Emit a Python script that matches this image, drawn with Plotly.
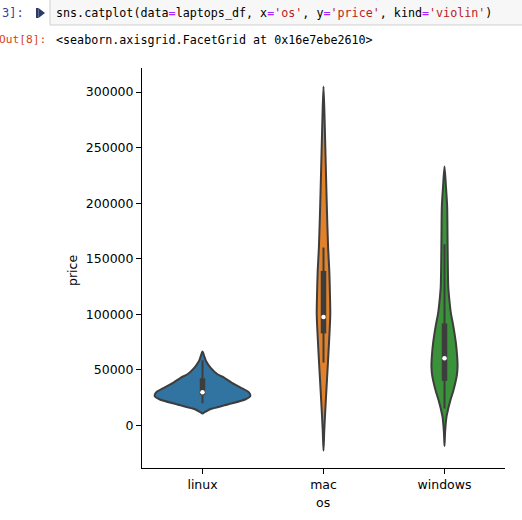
import plotly.graph_objects as go

# ---------------- data ----------------
categories = ["linux", "mac", "windows"]
y_ticks = [0, 50000, 100000, 150000, 200000, 250000, 300000]

# violin outlines: price levels and half-widths (in category units)
linux_price = [10500, 12000, 14400, 18900, 23400, 26400, 29400, 33900, 38400,
               42900, 45900, 51900, 57800, 62000, 66300]
linux_halfwidth = [0.0, 0.021, 0.062, 0.215, 0.356, 0.396, 0.385, 0.315, 0.240,
                   0.178, 0.124, 0.066, 0.029, 0.015, 0.0]

mac_price = [-23000, -4000, 26000, 57000, 86000, 100000, 115000, 139000, 160000,
             199000, 220000, 250000, 280000, 305000]
mac_halfwidth = [0.0, 0.0066, 0.021, 0.037, 0.051, 0.056, 0.054, 0.048, 0.038,
                 0.027, 0.022, 0.015, 0.008, 0.0]

windows_price = [-18600, -6000, 8000, 15000, 23000, 30000, 39000, 45000, 53000,
                 63000, 75000, 91000, 100000, 113000, 125000, 149000, 170000,
                 197000, 215000, 233000]
windows_halfwidth = [0.0, 0.005, 0.017, 0.031, 0.050, 0.070, 0.091, 0.102, 0.108,
                     0.104, 0.093, 0.070, 0.054, 0.040, 0.031, 0.027, 0.025,
                     0.022, 0.012, 0.0]

# inner box statistics
q1 = [27200, 82700, 40000]
median = [29700, 97500, 60300]
q3 = [42300, 139000, 91700]
whisker_low = [19800, 56400, 15000]
whisker_high = [58400, 160000, 163000]

fill_colors = ["#3274a1", "#e1812c", "#3a923a"]
outline = "#3d3d3d"

# ---------------- layout helpers ----------------
W, H = 522, 520
L, R, T, B = 142, 505, 68, 468


def px(x):
    return (x - L) / (R - L)


def py(y):
    return (B - y) / (B - T)


profiles = [(linux_price, linux_halfwidth), (mac_price, mac_halfwidth),
            (windows_price, windows_halfwidth)]

fig = go.Figure()
for i, cat in enumerate(categories):
    prices, hw = profiles[i]
    xs = [i + w for w in hw] + [i - w for w in hw[::-1]][1:]
    ys = list(prices) + list(prices[::-1])[1:]
    fig.add_trace(go.Scatter(
        x=xs, y=ys, mode="lines", fill="toself", fillcolor=fill_colors[i],
        line=dict(color=outline, width=2, shape="spline", smoothing=0.7),
        hoverinfo="skip", showlegend=False, name=cat))
    # whiskers
    fig.add_trace(go.Scatter(
        x=[i, i], y=[whisker_low[i], whisker_high[i]], mode="lines",
        line=dict(color=outline, width=2), hoverinfo="skip", showlegend=False))
    # box
    fig.add_trace(go.Scatter(
        x=[i, i], y=[q1[i], q3[i]], mode="lines",
        line=dict(color=outline, width=5.5), hoverinfo="skip", showlegend=False))
    # median
    fig.add_trace(go.Scatter(
        x=[i], y=[median[i]], mode="markers",
        marker=dict(color="white", size=4.5, line=dict(width=0)),
        hoverinfo="skip", showlegend=False))

axis_common = dict(showgrid=False, zeroline=False, showline=True,
                   linecolor="black", linewidth=1, ticks="outside", ticklen=5,
                   tickwidth=1, tickcolor="black")

fig.update_xaxes(range=[-0.5, 2.5], tickvals=[0, 1, 2], ticktext=categories,
                 **axis_common)
fig.update_yaxes(range=[-38500, 321700], tickvals=y_ticks,
                 ticktext=[str(v) for v in y_ticks], **axis_common)

mono = "DejaVu Sans Mono"
code_html = ("sns.catplot(data<span style='color:#aa22ff'>=</span>laptops_df, "
             "x<span style='color:#aa22ff'>=</span><span style='color:#ba2121'>'os'</span>, "
             "y<span style='color:#aa22ff'>=</span><span style='color:#ba2121'>'price'</span>, "
             "kind<span style='color:#aa22ff'>=</span><span style='color:#ba2121'>'violin'</span>)")

annotations = [
    dict(text="price", x=px(72), y=py(271), textangle=-90,
         font=dict(family="DejaVu Sans", size=12.5, color="black")),
    dict(text="os", x=px(323), y=py(502),
         font=dict(family="DejaVu Sans", size=12.5, color="black")),
    dict(text="3]:", x=px(0), y=py(13), xanchor="left",
         font=dict(family=mono, size=12, color="#303f9f")),
    dict(text="Out[8]:", x=px(-3), y=py(40), xanchor="left",
         font=dict(family=mono, size=11.2, color="#d84315")),
    dict(text=code_html, x=px(54), y=py(13), xanchor="left",
         font=dict(family=mono, size=11.7, color="black")),
    dict(text="&lt;seaborn.axisgrid.FacetGrid at 0x16e7ebe2610&gt;",
         x=px(54), y=py(40), xanchor="left",
         font=dict(family=mono, size=11.7, color="black")),
]
for a in annotations:
    a.update(xref="paper", yref="paper", showarrow=False, yanchor="middle")
    if "xanchor" not in a:
        a["xanchor"] = "center"

shapes = [
    dict(type="rect", xref="paper", yref="paper", x0=px(50), x1=px(530),
         y0=py(-2), y1=py(25), fillcolor="#f7f7f7",
         line=dict(color="#cfcfcf", width=1), layer="below"),
    dict(type="rect", xref="paper", yref="paper", x0=px(36), x1=px(38.5),
         y0=py(8), y1=py(18), fillcolor="#2b3a67", line=dict(width=0)),
    dict(type="path", xref="paper", yref="paper",
         path=f"M {px(38.5)},{py(8)} L {px(38.5)},{py(18)} L {px(45)},{py(13)} Z",
         fillcolor="#2b3a67", line=dict(width=0)),
]

fig.update_layout(
    width=W, height=H,
    margin=dict(l=L, r=W - R, t=T, b=H - B, pad=0),
    plot_bgcolor="white", paper_bgcolor="white",
    font=dict(family="DejaVu Sans", size=12.5, color="black"),
    showlegend=False,
    annotations=annotations, shapes=shapes,
)

fig.write_html("out.html",
               config={"displayModeBar": False},
               post_script="document.body.style.margin='0';"
                           "document.body.style.overflow='hidden';")
